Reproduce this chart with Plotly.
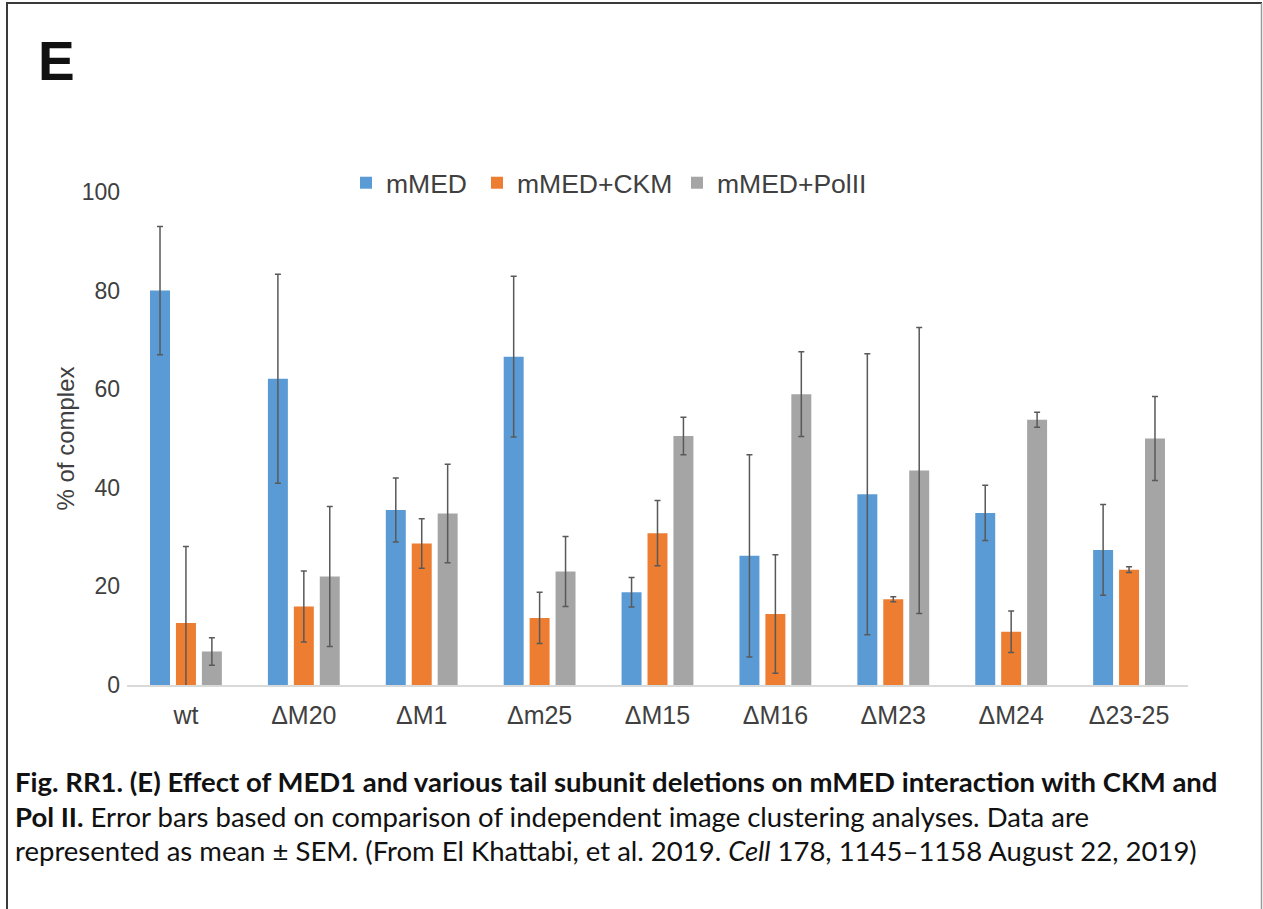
import plotly.graph_objects as go

categories = ["wt", "ΔM20", "ΔM1", "Δm25", "ΔM15", "ΔM16", "ΔM23", "ΔM24", "Δ23-25"]
series_names = ["mMED", "mMED+CKM", "mMED+PolII"]
mmed = [80.0, 62.1, 35.5, 66.6, 18.8, 26.2, 38.7, 34.9, 27.4]
mmed_err = [13.0, 21.2, 6.5, 16.3, 3.0, 20.5, 28.5, 5.6, 9.2]
ckm = [12.6, 15.9, 28.7, 13.6, 30.8, 14.4, 17.4, 10.8, 23.4]
ckm_err = [15.5, 7.2, 5.0, 5.2, 6.6, 12.0, 0.5, 4.2, 0.6]
pol = [6.8, 22.0, 34.8, 23.0, 50.5, 59.0, 43.5, 53.8, 50.0]
pol_err = [2.8, 14.2, 10.0, 7.1, 3.8, 8.6, 29.0, 1.5, 8.5]
y_ticks = [0, 20, 40, 60, 80, 100]

colors = ["#5B9BD5", "#ED7D31", "#A5A5A5"]

W, H = 1263, 909
L, R, T, B = 127, 1188, 192, 685

def px(x):
    return (x - L) / (R - L)

def py(y):
    return (B - y) / (B - T)

legend_ids = ["legend", "legend2", "legend3"]
legend_x = [346, 477, 677]

fig = go.Figure()
for name, vals, errs, col, lid in zip(series_names, [mmed, ckm, pol], [mmed_err, ckm_err, pol_err], colors, legend_ids):
    fig.add_trace(go.Bar(
        x=categories, y=vals, name=name, legend=lid,
        marker=dict(color=col, line=dict(width=0)),
        error_y=dict(type="data", array=errs, visible=True, color="#595959", thickness=1.5, width=3),
    ))

caption_font = "Lato, 'Open Sans', sans-serif"
cap_size = 27.5
annotations = [
    dict(text="<b>E</b>", x=px(36), y=py(61), xref="paper", yref="paper", xanchor="left", yanchor="middle",
         showarrow=False, font=dict(family="Liberation Sans, Arial, sans-serif", size=55, color="#111111")),
    dict(text="<b>Fig. RR1. (E) Effect of MED1 and various tail subunit deletions on mMED interaction with CKM and</b>",
         x=px(13), y=py(781), xref="paper", yref="paper", xanchor="left", yanchor="middle", showarrow=False,
         font=dict(family=caption_font, size=cap_size, color="#111111")),
    dict(text="<b>Pol II.</b> Error bars based on comparison of independent image clustering analyses. Data are",
         x=px(13), y=py(816), xref="paper", yref="paper", xanchor="left", yanchor="middle", showarrow=False,
         font=dict(family=caption_font, size=cap_size, color="#111111")),
    dict(text="represented as mean ± SEM. (From El Khattabi, et al. 2019. <i>Cell</i> 178, 1145–1158 August 22, 2019)",
         x=px(13), y=py(850), xref="paper", yref="paper", xanchor="left", yanchor="middle", showarrow=False,
         font=dict(family=caption_font, size=cap_size, color="#111111")),
]

shapes = [
    dict(type="line", xref="paper", yref="paper", x0=px(7), x1=px(7), y0=py(3), y1=py(912), line=dict(color="#3a3a3a", width=2)),
    dict(type="line", xref="paper", yref="paper", x0=px(6), x1=px(1262), y0=py(3), y1=py(3), line=dict(color="#3a3a3a", width=2)),
    dict(type="line", xref="paper", yref="paper", x0=px(1261.5), x1=px(1261.5), y0=py(3), y1=py(912), line=dict(color="#9a9a9a", width=1.5)),
]

legend_common = dict(orientation="h", yanchor="middle", xanchor="left", bgcolor="rgba(0,0,0,0)",
                     font=dict(size=26.5, color="#404040"), itemwidth=30)

fig.update_layout(
    width=W, height=H,
    margin=dict(l=L, r=W - R, t=T, b=H - B, pad=0),
    paper_bgcolor="white", plot_bgcolor="white",
    barmode="group", bargap=0.34, bargroupgap=0.23,
    font=dict(family="Liberation Sans, Arial, sans-serif", size=22, color="#404040"),
    legend=dict(x=px(legend_x[0]), y=py(183), **legend_common),
    legend2=dict(x=px(legend_x[1]), y=py(183), **legend_common),
    legend3=dict(x=px(legend_x[2]), y=py(183), **legend_common),
    annotations=annotations, shapes=shapes,
    showlegend=True,
)
fig.update_xaxes(showline=True, linecolor="#d9d9d9", linewidth=2, ticks="", showgrid=False,
                 ticklabelstandoff=7, tickfont=dict(size=25, color="#404040"))
fig.update_yaxes(range=[0, 100], tickvals=y_ticks, showline=False, showgrid=False, zeroline=False,
                 ticks="", ticklabelstandoff=6,
                 title=dict(text="% of complex", font=dict(size=24, color="#404040"), standoff=0),
                 tickfont=dict(size=23, color="#404040"))

fig.write_html("out.html", config={"displayModeBar": False},
               post_script="document.body.style.margin='0';")
